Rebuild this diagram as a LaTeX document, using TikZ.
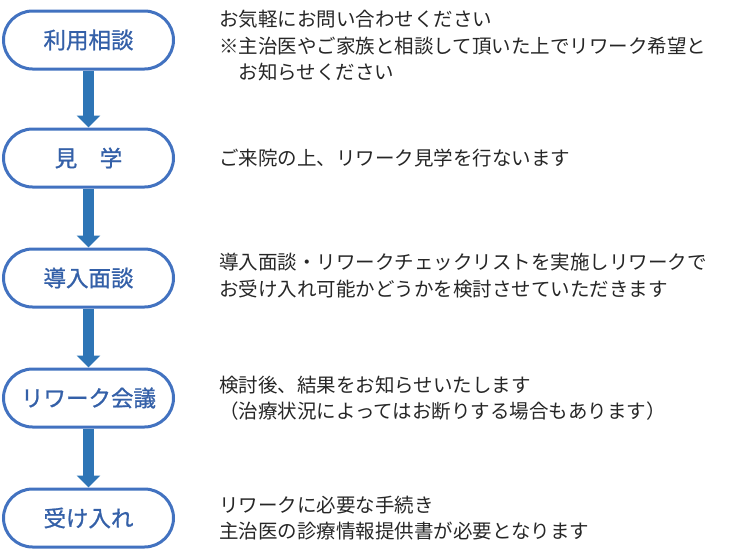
\documentclass[tikz,border=0pt]{standalone}
\usepackage{fontspec}
\setmainfont{Noto Sans CJK JP}
\newfontfamily\labelfont[FakeBold=1]{Noto Sans CJK JP}
\usetikzlibrary{positioning,arrows.meta}
\definecolor{boxblue}{RGB}{66,114,192}
\definecolor{arrowblue}{RGB}{46,117,182}
\definecolor{labelblue}{RGB}{52,96,168}
\definecolor{notegray}{RGB}{38,38,38}

\begin{document}
\begin{tikzpicture}[x=1pt,y=-1pt,
  stepbox/.style={draw=boxblue,line width=3pt,fill=white,rounded corners=29pt,
    minimum width=170pt,minimum height=58pt,inner sep=0pt,
    font=\labelfont\fontsize{22.5}{26}\selectfont,text=labelblue},
  note/.style={anchor=west,inner sep=0pt,align=left,text=notegray,
    font=\fontsize{19.5}{26.5}\selectfont},
  flow/.style={arrowblue,line width=11pt,-{Triangle[width=23pt,length=12pt]}}]
\useasboundingbox (0,0) rectangle (750,552);
\node[stepbox] (riyo) at (88.5,40) {利用相談};
\node[stepbox] (kengaku) at (88.5,158) {見　学};
\node[stepbox] (dounyu) at (88.5,278) {導入面談};
\node[stepbox] (kaigi) at (88.5,398) {リワーク会議};
\node[stepbox] (ukeire) at (88.5,518) {受け入れ};
% arrows between steps
\foreach \a/\b in {riyo/kengaku,kengaku/dounyu,dounyu/kaigi,kaigi/ukeire}
  \draw[flow] (\a.south) -- (\b.north);
% notes
\node[note,right=44pt of riyo,yshift=-6pt] (riyotxt) {お気軽にお問い合わせください\\※主治医やご家族と相談して頂いた上でリワーク希望と\\　お知らせください};
\node[note,right=44pt of kengaku] (kengakutxt) {ご来院の上、リワーク見学を行ないます};
\node[note,right=44pt of dounyu,yshift=2.5pt] (dounyutxt) {導入面談・リワークチェックリストを実施しリワークで\\お受け入れ可能かどうかを検討させていただきます};
\node[note,right=44pt of kaigi] (kaigitxt) {検討後、結果をお知らせいたします\\（治療状況によってはお断りする場合もあります）};
\node[note,right=44pt of ukeire] (ukeiretxt) {リワークに必要な手続き\\主治医の診療情報提供書が必要となります};
\end{tikzpicture}
\end{document}
